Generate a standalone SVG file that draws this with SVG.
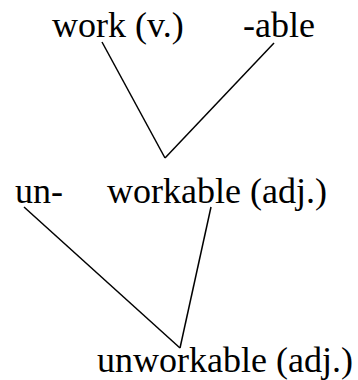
<svg xmlns="http://www.w3.org/2000/svg" width="358" height="380" viewBox="0 0 358 380">
<style>
text{font-family:"Liberation Serif","Times New Roman",serif;font-size:36px;fill:#000}
line{stroke:#000;stroke-width:1.5}
</style>
<rect width="358" height="380" fill="#fff"/>
<g id="work"><text x="52" y="37">work (v.)</text></g>
<g id="able"><text x="243" y="37">-able</text></g>
<g id="un"><text x="15" y="203">un-</text></g>
<g id="workable"><text x="107" y="203">workable (adj.)</text></g>
<g id="unworkable"><text x="97" y="372">unworkable (adj.)</text></g>
<g id="connectors">
<line x1="102" y1="42" x2="165" y2="158"/>
<line x1="274" y1="43" x2="165" y2="158"/>
<line x1="24" y1="207" x2="180" y2="348"/>
<line x1="211" y1="207" x2="180" y2="348"/>
</g>
</svg>
